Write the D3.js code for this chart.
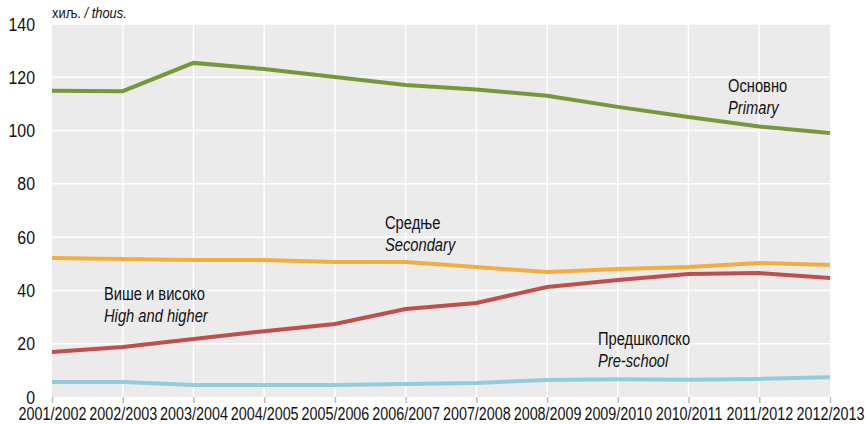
<!DOCTYPE html>
<html>
<head>
<meta charset="utf-8">
<script src="https://cdn.jsdelivr.net/npm/d3@7"></script>
<style>
body { margin: 0; background: #fff; }
text { font-family: "Liberation Sans", Arial, sans-serif; fill: #111; }
</style>
</head>
<body>
<script>
// data
const years = ["2001/2002","2002/2003","2003/2004","2004/2005","2005/2006","2006/2007",
               "2007/2008","2008/2009","2009/2010","2010/2011","2011/2012","2012/2013"];
const primary   = [114.9, 114.8, 125.4, 123.1, 120.1, 117.1, 115.4, 113.1, 108.9, 105.1, 101.5, 99.1];
const secondary = [52.2, 51.8, 51.4, 51.4, 50.7, 50.7, 48.8, 46.9, 48.0, 48.8, 50.3, 49.5];
const higher    = [16.9, 18.8, 21.8, 24.7, 27.4, 33.0, 35.3, 41.3, 43.9, 46.2, 46.5, 44.7];
const preschool = [5.6, 5.6, 4.5, 4.5, 4.5, 4.9, 5.3, 6.4, 6.7, 6.5, 6.8, 7.4];
const yTicks = [0, 20, 40, 60, 80, 100, 120, 140];

const W = 866, H = 424;
const m = {left: 52, right: 36, top: 24, bottom: 27};
const sx = 0.84; // narrow font look

const svg = d3.select("body").append("svg").attr("width", W).attr("height", H);

const x = d3.scalePoint().domain(years).range([m.left, W - m.right]);
const y = d3.scaleLinear().domain([0, 140]).range([H - m.bottom, m.top]);

// background
svg.append("rect")
    .attr("x", m.left).attr("y", m.top)
    .attr("width", W - m.right - m.left).attr("height", H - m.bottom - m.top)
    .attr("fill", "#ebebeb");

// gridlines
svg.selectAll(".hgrid").data(yTicks.slice(1)).enter().append("line")
    .attr("x1", m.left).attr("x2", W - m.right)
    .attr("y1", d => y(d)).attr("y2", d => y(d))
    .attr("stroke", "#fff").attr("stroke-width", 1.5);
svg.selectAll(".vgrid").data(years.slice(1, -1)).enter().append("line")
    .attr("x1", d => x(d)).attr("x2", d => x(d))
    .attr("y1", m.top).attr("y2", H - m.bottom)
    .attr("stroke", "#fff").attr("stroke-width", 1.5);

// y axis labels
svg.selectAll(".ylab").data(yTicks).enter().append("text")
    .attr("transform", d => "translate(35," + (y(d) + 6.5) + ") scale(0.86,1)")
    .attr("text-anchor", "end").attr("font-size", 18.5)
    .text(d => d);

// x axis
const xAxis = svg.append("g")
    .attr("transform", "translate(0," + (H - m.bottom) + ")")
    .call(d3.axisBottom(x).tickSize(6).tickPadding(5));
xAxis.select(".domain").remove();
xAxis.selectAll(".tick line").attr("stroke", "#bbb").attr("stroke-width", 1.5);
xAxis.selectAll(".tick text")
    .attr("font-size", 17.5).attr("fill", "#111")
    .attr("transform", "scale(0.82,1)")
    .style("font-family", "'Liberation Sans', Arial, sans-serif");

// unit label
const unit = svg.append("text").attr("transform", "translate(52,18) scale(0.86,1)")
    .attr("font-size", 15);
unit.append("tspan").text("хиљ. ");
unit.append("tspan").attr("font-style", "italic").text("/ thous.");

// lines
const line = d3.line().x((d, i) => x(years[i])).y(d => y(d));
const series = [
    {vals: primary, color: "#77983a"},
    {vals: secondary, color: "#f2ad41"},
    {vals: higher, color: "#c24e4b"},
    {vals: preschool, color: "#93cddd"}
];
svg.selectAll(".series").data(series).enter().append("path")
    .attr("d", d => line(d.vals))
    .attr("fill", "none")
    .attr("stroke", d => d.color)
    .attr("stroke-width", 4);

// annotations
const labels = [
    {sr: "Основно", en: "Primary", x: 728, y: 92},
    {sr: "Средње", en: "Secondary", x: 385, y: 229},
    {sr: "Више и високо", en: "High and higher", x: 104, y: 300},
    {sr: "Предшколско", en: "Pre-school", x: 598, y: 345}
];
labels.forEach(function(l) {
    svg.append("text").attr("transform", "translate(" + l.x + "," + l.y + ") scale(" + sx + ",1)")
        .attr("font-size", 17.5).text(l.sr);
    svg.append("text").attr("transform", "translate(" + l.x + "," + (l.y + 22) + ") scale(" + sx + ",1)")
        .attr("font-size", 17.5).attr("font-style", "italic").text(l.en);
});
</script>
</body>
</html>
